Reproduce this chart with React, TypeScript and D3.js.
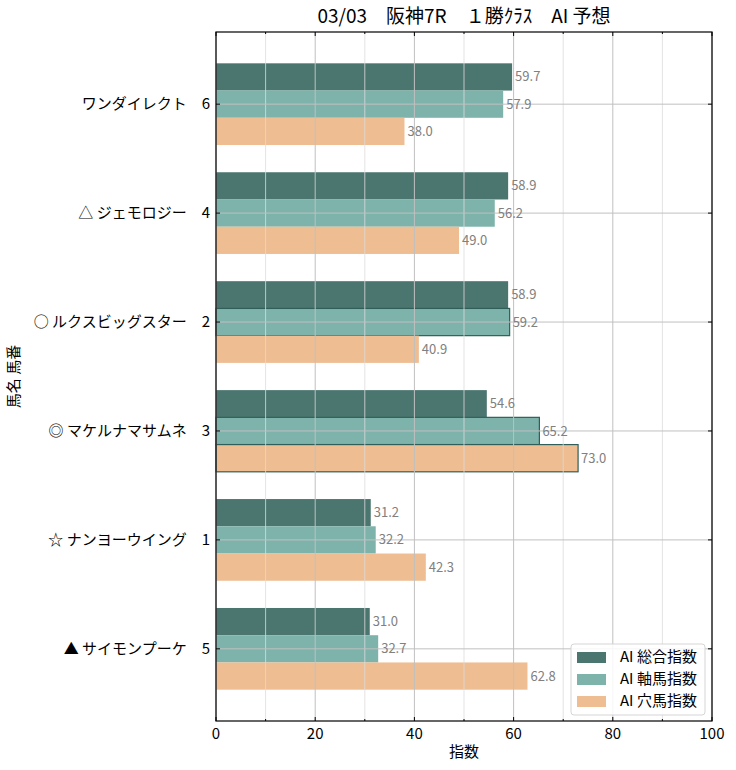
import React, { useEffect } from "react";
import * as d3 from "d3";

const title = "03/03　阪神7R　１勝ｸﾗｽ　AI 予想";
const horseNames = ["ワンダイレクト", "△ ジェモロジー", "○ ルクスビッグスター", "◎ マケルナマサムネ", "☆ ナンヨーウイング", "▲ サイモンプーケ"];
const horseNumbers = ["6", "4", "2", "3", "1", "5"];
const seriesNames = ["AI 総合指数", "AI 軸馬指数", "AI 穴馬指数"];
const sogo = [59.7, 58.9, 58.9, 54.6, 31.2, 31.0];
const jiku = [57.9, 56.2, 59.2, 65.2, 32.2, 32.7];
const ana = [38.0, 49.0, 40.9, 73.0, 42.3, 62.8];
const sogoHighlight = [false, false, false, false, false, false];
const jikuHighlight = [false, false, true, true, false, false];
const anaHighlight = [false, false, false, true, false, false];
const xMajorTicks = [0, 20, 40, 60, 80, 100];
const xMinorTicks = [10, 30, 50, 70, 90];
const xLabel = "指数";
const yLabel = "馬名 馬番";

const colors = ["#4b7670", "#7db3ab", "#eebd92"];
const edgeColor = "#2f5f58";
const FONT = "'Noto Sans CJK JP', 'Noto Sans', sans-serif";

export default function App() {
  useEffect(() => {
    document.body.style.margin = "0";
  }, []);

  const W = 736, H = 770;
  const left = 216, right = 712, top = 32, bottom = 721;
  const x = d3.scaleLinear().domain([0, 100]).range([left, right]);
  const n = horseNames.length;
  const barH = 0.25;
  const y = d3.scaleLinear().domain([-0.375 - 0.2875, n - 1 + 0.375 + 0.2875]).range([top, bottom]);
  const series = [sogo, jiku, ana];
  const highlights = [sogoHighlight, jikuHighlight, anaHighlight];
  const offsets = [-0.25, 0, 0.25];
  const tickLen = 4;

  return (
    <svg width={W} height={H} style={{ display: "block", fontFamily: FONT }}>
      <rect x={0} y={0} width={W} height={H} fill="#fff" />
      {/* bars */}
      {series.map((vals, s) =>
        vals.map((v, i) => {
          const yc = i + offsets[s];
          const y0 = y(yc - barH / 2);
          const y1 = y(yc + barH / 2);
          const hl = highlights[s][i];
          return (
            <rect
              key={`b${s}-${i}`}
              x={x(0)}
              y={y0}
              width={x(v) - x(0)}
              height={y1 - y0}
              fill={colors[s]}
              stroke={hl ? edgeColor : "none"}
              strokeWidth={hl ? 1.2 : 0}
            />
          );
        })
      )}
      {/* grid */}
      {xMinorTicks.map((t) => (
        <line key={`gm${t}`} x1={x(t)} x2={x(t)} y1={top} y2={bottom} stroke="#dcdcdc" strokeWidth={0.8} />
      ))}
      {xMajorTicks.map((t) => (
        <line key={`gM${t}`} x1={x(t)} x2={x(t)} y1={top} y2={bottom} stroke="#c0c0c0" strokeWidth={1} />
      ))}
      {horseNames.map((_, i) => (
        <line key={`gy${i}`} x1={left} x2={right} y1={y(i)} y2={y(i)} stroke="#c0c0c0" strokeWidth={1} />
      ))}
      {/* value labels */}
      {series.map((vals, s) =>
        vals.map((v, i) => (
          <text
            key={`t${s}-${i}`}
            x={x(v) + 3}
            y={y(i + offsets[s])}
            dy="0.35em"
            fontSize={13}
            fill="#808080"
          >
            {v.toFixed(1)}
          </text>
        ))
      )}
      {/* frame */}
      <rect x={left} y={top} width={right - left} height={bottom - top} fill="none" stroke="#000" strokeWidth={1.2} />
      {/* ticks */}
      {xMajorTicks.map((t) => (
        <g key={`xt${t}`}>
          <line x1={x(t)} x2={x(t)} y1={bottom} y2={bottom - tickLen} stroke="#000" />
          <line x1={x(t)} x2={x(t)} y1={top} y2={top + tickLen} stroke="#000" />
          <text x={x(t)} y={bottom + 18} textAnchor="middle" fontSize={15} fill="#000">{t}</text>
        </g>
      ))}
      {xMinorTicks.map((t) => (
        <g key={`xmt${t}`}>
          <line x1={x(t)} x2={x(t)} y1={bottom} y2={bottom - 2} stroke="#000" />
          <line x1={x(t)} x2={x(t)} y1={top} y2={top + 2} stroke="#000" />
        </g>
      ))}
      {horseNames.map((name, i) => (
        <g key={`yt${i}`}>
          <line x1={left} x2={left + tickLen} y1={y(i)} y2={y(i)} stroke="#000" />
          <line x1={right} x2={right - tickLen} y1={y(i)} y2={y(i)} stroke="#000" />
          <text x={left - 6} y={y(i)} dy="0.35em" textAnchor="end" fontSize={15} fill="#000">
            {name + "\u3000" + horseNumbers[i]}
          </text>
        </g>
      ))}
      {/* axis labels */}
      <text x={(left + right) / 2} y={757} textAnchor="middle" fontSize={15} fill="#000">{xLabel}</text>
      <text
        transform={`translate(19, ${(top + bottom) / 2}) rotate(-90)`}
        textAnchor="middle"
        fontSize={15}
        fill="#000"
      >
        {yLabel}
      </text>
      {/* title */}
      <text x={(left + right) / 2} y={23} textAnchor="middle" fontSize={19} fill="#000">{title}</text>
      {/* legend */}
      <g transform="translate(571, 644)">
        <rect x={0} y={0} width={134} height={71} rx={3} fill="#fff" fillOpacity={0.85} stroke="#d5d5d5" />
        {seriesNames.map((s, k) => (
          <g key={`lg${k}`} transform={`translate(0, ${13 + k * 22})`}>
            <rect x={6} y={-5} width={29} height={11} fill={colors[k]} />
            <text x={49} y={0} dy="0.35em" fontSize={15} fill="#000">{s}</text>
          </g>
        ))}
      </g>
    </svg>
  );
}
